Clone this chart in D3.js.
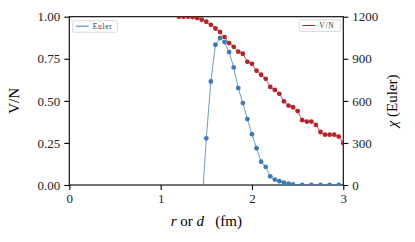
<!DOCTYPE html>
<html>
<head>
<meta charset="utf-8">
<script src="https://cdn.jsdelivr.net/npm/d3@7"></script>
<style>
  body { margin: 0; background: #fff; }
  svg text { font-family: "Liberation Serif", "DejaVu Serif", serif; fill: #000; }
</style>
</head>
<body>
<div id="chart"></div>
<script>
// V/N against r (left axis)
const rVN = [1.20, 1.25, 1.30, 1.35, 1.40, 1.45, 1.50, 1.55, 1.60, 1.65, 1.70, 1.75, 1.80,
  1.85, 1.90, 1.95, 2.00, 2.05, 2.10, 2.15, 2.20, 2.25, 2.30, 2.35, 2.40, 2.45, 2.50,
  2.55, 2.60, 2.65, 2.70, 2.75, 2.80, 2.85, 2.90, 2.95, 3.00];
const vOverN = [1.00, 1.00, 1.00, 0.998, 0.992, 0.982, 0.970, 0.952, 0.930, 0.909, 0.879, 0.843, 0.821,
  0.792, 0.780, 0.732, 0.720, 0.679, 0.655, 0.631, 0.583, 0.565, 0.542, 0.497, 0.472, 0.462, 0.439,
  0.385, 0.377, 0.377, 0.357, 0.315, 0.299, 0.299, 0.299, 0.288, 0.248];

// Euler characteristic against d (right axis)
const rEuler = [1.45, 1.50, 1.55, 1.60, 1.65, 1.70, 1.75, 1.80, 1.85, 1.90, 1.95, 2.00, 2.05,
  2.10, 2.15, 2.20, 2.25, 2.30, 2.35, 2.40, 2.45, 2.55, 2.65, 2.75, 2.85, 2.95];
const chiEuler = [-170, 333, 738, 1000, 1048, 1019, 948, 838, 691, 584, 470, 362, 262,
  166, 129, 62, 39, 27, 16, 9, 4, 0, 0, 0, 0, 0];

const xTicks = [0, 1, 2, 3];
const leftTicks = [0, 0.25, 0.5, 0.75, 1.0];
const rightTicks = [0, 300, 600, 900, 1200];

const width = 415, height = 242;
const margin = {top: 16.7, right: 71.7, bottom: 57, left: 69.3};
const innerW = width - margin.left - margin.right;
const innerH = height - margin.top - margin.bottom;

const red = "#b5232a", blue = "#3d7ab8";

const svg = d3.select("#chart").append("svg")
  .attr("width", width)
  .attr("height", height);

svg.append("defs").append("clipPath").attr("id", "plotclip")
  .append("rect").attr("width", innerW).attr("height", innerH);

const g = svg.append("g").attr("transform", `translate(${margin.left},${margin.top})`);

const x = d3.scaleLinear().domain([0, 3]).range([0, innerW]);
const yL = d3.scaleLinear().domain([0, 1]).range([innerH, 0]);
const yR = d3.scaleLinear().domain([0, 1200]).range([innerH, 0]);

// axes
const xAxis = g.append("g").attr("transform", `translate(0,${innerH})`)
  .call(d3.axisBottom(x).tickValues(xTicks).tickFormat(d3.format("d")).tickSizeInner(5).tickSizeOuter(0).tickPadding(4));
const leftAxis = g.append("g")
  .call(d3.axisLeft(yL).tickValues(leftTicks).tickFormat(d3.format(".2f")).tickSizeInner(5).tickSizeOuter(0).tickPadding(4));
const rightAxis = g.append("g").attr("transform", `translate(${innerW},0)`)
  .call(d3.axisRight(yR).tickValues(rightTicks).tickFormat(d3.format("d")).tickSizeInner(5).tickSizeOuter(0).tickPadding(4));

[xAxis, leftAxis, rightAxis].forEach(a => {
  a.selectAll("text").style("font-size", "13px").style("fill", "#222");
  a.selectAll("line").attr("stroke", "#000").attr("stroke-width", 1.1);
  a.select(".domain").remove();
});

// frame
g.append("rect")
  .attr("width", innerW).attr("height", innerH)
  .attr("fill", "none").attr("stroke", "#000").attr("stroke-width", 1.1);

const plot = g.append("g").attr("clip-path", "url(#plotclip)");

// V/N series
const redData = rVN.map((r, i) => ({r: r, v: vOverN[i]}));
plot.append("path")
  .datum(redData)
  .attr("fill", "none")
  .attr("stroke", red).attr("stroke-opacity", 0.8).attr("stroke-width", 1)
  .attr("d", d3.line().x(d => x(d.r)).y(d => yL(d.v)));
plot.selectAll("circle.vn")
  .data(redData).enter().append("circle")
  .attr("class", "vn")
  .attr("cx", d => x(d.r)).attr("cy", d => yL(d.v)).attr("r", 2.4)
  .attr("fill", red);

// Euler series (twin axis, drawn on top)
const blueData = rEuler.map((r, i) => ({r: r, c: chiEuler[i]}));
plot.append("path")
  .datum(blueData)
  .attr("fill", "none")
  .attr("stroke", blue).attr("stroke-opacity", 0.75).attr("stroke-width", 1)
  .attr("d", d3.line().x(d => x(d.r)).y(d => yR(d.c)));
plot.selectAll("circle.eu")
  .data(blueData).enter().append("circle")
  .attr("class", "eu")
  .attr("cx", d => x(d.r)).attr("cy", d => yR(d.c)).attr("r", 2.4)
  .attr("fill", blue);

// legends
function legend(x0, y0, w, label, color) {
  const lg = g.append("g").attr("transform", `translate(${x0},${y0})`);
  lg.append("rect").attr("width", w).attr("height", 11.5).attr("rx", 1.5)
    .attr("fill", "#fff").attr("stroke", "#d0d0d0").attr("stroke-width", 0.8);
  lg.append("line").attr("x1", 3).attr("x2", 16).attr("y1", 5.5).attr("y2", 5.5)
    .attr("stroke", color).attr("stroke-width", 1);
  lg.append("text").attr("x", 20).attr("y", 8.2)
    .style("font-size", "7.5px").style("letter-spacing", "0.7px").style("fill", "#333")
    .text(label);
}
legend(3.4, 4, 44.6, "Euler", blue);
legend(230, 3.3, 41.4, "V/N", red);

// axis titles
svg.append("text")
  .attr("transform", `translate(19,${margin.top + innerH / 2}) rotate(-90)`)
  .attr("text-anchor", "middle")
  .style("font-size", "15px")
  .text("V/N");

const rt = svg.append("text")
  .attr("transform", `translate(397,${margin.top + innerH / 2}) rotate(-90)`)
  .attr("text-anchor", "middle")
  .style("font-size", "15px");
rt.append("tspan").style("font-style", "italic").text("χ");
rt.append("tspan").text(" (Euler)");

const xt = svg.append("text")
  .attr("x", margin.left + innerW / 2)
  .attr("y", 226)
  .attr("text-anchor", "middle")
  .style("font-size", "15px");
xt.append("tspan").style("font-style", "italic").text("r");
xt.append("tspan").text("\u00a0or\u00a0");
xt.append("tspan").style("font-style", "italic").text("d");
xt.append("tspan").text("\u00a0\u00a0\u00a0(fm)");
</script>
</body>
</html>
